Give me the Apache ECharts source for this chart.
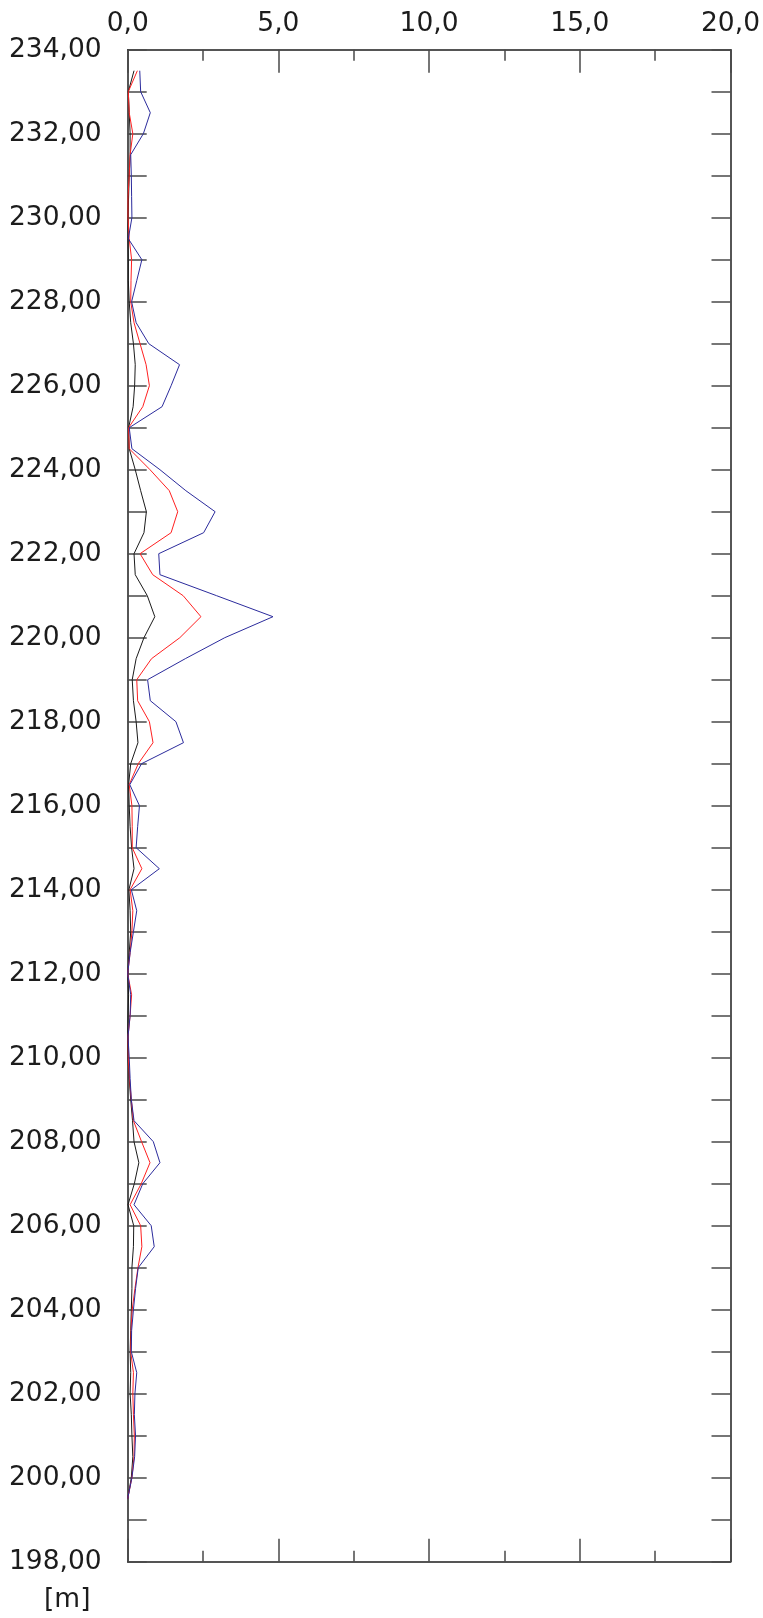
<!DOCTYPE html>
<html>
<head>
<meta charset="utf-8">
<title>Profil</title>
<script src="https://cdn.jsdelivr.net/npm/echarts@6/dist/echarts.min.js"></script>
<style>
  html, body { margin: 0; padding: 0; background: #ffffff; }
  #chart { width: 763px; height: 1618px; }
</style>
</head>
<body>
<div id="chart"></div>
<script>
// Depth levels [m], top to bottom
const depths = [
  233.5, 233.0, 232.5, 232.0, 231.5, 231.0, 230.5, 230.0, 229.5, 229.0, 228.5, 228.0, 227.5, 227.0, 226.5, 226.0, 225.5, 225.0,
  224.5, 224.0, 223.5, 223.0, 222.5, 222.0, 221.5, 221.0, 220.5, 220.0, 219.5, 219.0, 218.5, 218.0, 217.5, 217.0, 216.5,
  216.0, 215.5, 215.0, 214.5, 214.0, 213.5, 213.0, 212.5, 212.0, 211.5, 211.0, 210.5, 210.0, 209.5, 209.0, 208.5, 208.0, 207.5,
  207.0, 206.5, 206.0, 205.5, 205.0, 204.5, 204.0, 203.5, 203.0, 202.5, 202.0, 201.5, 201.0, 200.5, 200.0, 199.5
];

// Profile values at each depth
const blackValues = [
  0.21, 0.02, 0.05, 0.08, 0.08, 0.05, 0.03, 0.01, 0.01, 0.02, 0.02, 0.05, 0.10, 0.19, 0.25, 0.23, 0.18, 0.03,
  0.05, 0.25, 0.43, 0.62, 0.54, 0.21, 0.25, 0.65, 0.90, 0.54, 0.28, 0.15, 0.19, 0.28, 0.34, 0.10, 0.03,
  0.05, 0.08, 0.13, 0.21, 0.04, 0.08, 0.10, 0.05, 0.00, 0.03, 0.01, 0.00, 0.01, 0.05, 0.10, 0.16, 0.21, 0.37,
  0.22, 0.01, 0.20, 0.19, 0.14, 0.14, 0.12, 0.10, 0.08, 0.10, 0.08, 0.12, 0.14, 0.17, 0.12, 0.00
];
const redValues = [
  0.32, 0.02, 0.05, 0.17, 0.08, 0.05, 0.01, 0.01, 0.05, 0.13, 0.11, 0.10, 0.21, 0.41, 0.61, 0.72, 0.50, 0.03,
  0.05, 0.74, 1.38, 1.66, 1.44, 0.41, 0.83, 1.84, 2.43, 1.73, 0.79, 0.30, 0.33, 0.72, 0.84, 0.35, 0.05,
  0.14, 0.15, 0.15, 0.47, 0.08, 0.17, 0.14, 0.08, 0.00, 0.13, 0.08, 0.01, 0.02, 0.06, 0.12, 0.19, 0.46, 0.74,
  0.45, 0.08, 0.43, 0.47, 0.34, 0.24, 0.15, 0.11, 0.10, 0.19, 0.17, 0.19, 0.22, 0.21, 0.14, 0.00
];
const blueValues = [
  0.40, 0.43, 0.75, 0.52, 0.10, 0.12, 0.13, 0.14, 0.02, 0.47, 0.30, 0.13, 0.28, 0.70, 1.72, 1.44, 1.14, 0.05,
  0.14, 1.07, 1.93, 2.90, 2.52, 1.03, 1.07, 2.95, 4.82, 3.22, 1.91, 0.66, 0.75, 1.60, 1.85, 0.46, 0.07,
  0.39, 0.33, 0.28, 1.05, 0.12, 0.30, 0.19, 0.08, 0.00, 0.10, 0.08, 0.01, 0.05, 0.08, 0.12, 0.21, 0.85, 1.07,
  0.50, 0.21, 0.78, 0.88, 0.35, 0.26, 0.19, 0.13, 0.12, 0.30, 0.24, 0.22, 0.26, 0.23, 0.14, 0.00
];

const depthUnit = '[m]';

const FONT = 'DejaVu Sans';
const TEXT_COLOR = '#1c1c1c';
const AXIS_COLOR = '#1e1e1e';
const TICK_COLOR = '#4a4a4a';

const pairs = vals => vals.map((v, i) => [v, depths[i]]);
const comma = (v, d) => v.toFixed(d).replace('.', ',');

const xAxisBase = {
  type: 'value', min: 0, max: 20, interval: 5,
  axisLine: { show: true, onZero: false, lineStyle: { color: AXIS_COLOR, width: 1.5 } },
  axisTick: { show: true, inside: true, length: 23, lineStyle: { color: TICK_COLOR, width: 1.5 } },
  minorTick: { show: true, splitNumber: 2, length: 11, lineStyle: { color: TICK_COLOR, width: 1.5 } },
  splitLine: { show: false }, minorSplitLine: { show: false }
};
const yAxisBase = {
  type: 'value', min: 198, max: 234, interval: 1,
  axisLine: { show: true, onZero: false, lineStyle: { color: AXIS_COLOR, width: 1.5 } },
  axisTick: { show: true, inside: true, length: 19, lineStyle: { color: TICK_COLOR, width: 1.5 } },
  splitLine: { show: false }
};

const chart = echarts.init(document.getElementById('chart'), null, { renderer: 'canvas' });
chart.setOption({
  backgroundColor: '#ffffff',
  animation: false,
  grid: { left: 127.7, right: 30.7, top: 49.7, bottom: 56.3, containLabel: false },
  xAxis: [
    Object.assign({}, xAxisBase, {
      position: 'top',
      axisLabel: {
        show: true, margin: 12, fontFamily: FONT, fontSize: 26.5, color: TEXT_COLOR,
        formatter: v => comma(v, 1)
      }
    }),
    Object.assign({}, xAxisBase, { position: 'bottom', axisLabel: { show: false } })
  ],
  yAxis: [
    Object.assign({}, yAxisBase, {
      position: 'left',
      axisLabel: {
        show: true, margin: 26, fontFamily: FONT, fontSize: 26.5, color: TEXT_COLOR,
        padding: [7, 0, 0, 0],
        showMinLabel: true, showMaxLabel: true,
        formatter: v => (Math.round(v) % 2 === 0 ? comma(v, 2) : '')
      }
    }),
    Object.assign({}, yAxisBase, { position: 'right', axisLabel: { show: false } })
  ],
  graphic: [{
    type: 'text', left: 44, top: 1587,
    style: { text: depthUnit, fontFamily: FONT, fontSize: 26.5, fill: TEXT_COLOR }
  }],
  series: [
    { name: 'black', type: 'line', xAxisIndex: 0, yAxisIndex: 0, data: pairs(blackValues),
      showSymbol: false, symbol: 'none', lineStyle: { color: '#1a1a1a', width: 1 } },
    { name: 'red', type: 'line', xAxisIndex: 0, yAxisIndex: 0, data: pairs(redValues),
      showSymbol: false, symbol: 'none', lineStyle: { color: '#ff2020', width: 1 } },
    { name: 'blue', type: 'line', xAxisIndex: 0, yAxisIndex: 0, data: pairs(blueValues),
      showSymbol: false, symbol: 'none', lineStyle: { color: '#2b2b9c', width: 1 } }
  ]
});
</script>
</body>
</html>
